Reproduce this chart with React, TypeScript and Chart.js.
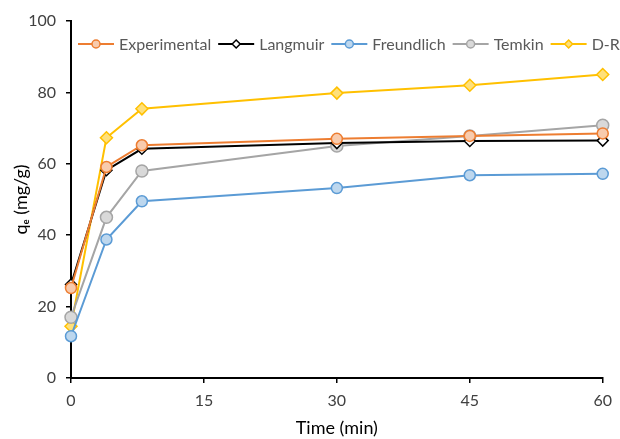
import React, { useEffect, useRef } from "react";
import { Chart, registerables } from "chart.js";

Chart.register(...registerables);

const timeMin = [0, 4, 8, 30, 45, 60];
const experimental = [25.2, 59.1, 65.2, 67.0, 67.8, 68.5];
const langmuir = [26.2, 58.2, 64.2, 65.8, 66.4, 66.5];
const freundlich = [11.7, 38.8, 49.5, 53.2, 56.8, 57.2];
const temkin = [17.0, 45.0, 58.0, 65.0, 67.8, 70.8];
const dr = [14.5, 67.3, 75.4, 79.8, 82.0, 85.0];
const xTicks = [0, 15, 30, 45, 60];
const yTicks = [0, 20, 40, 60, 80, 100];

const FONT = "Lato, 'Open Sans', sans-serif";

type S = { label: string; data: number[]; line: string; fill: string; style: "circle" | "rectRot"; r: number };
const series: S[] = [
  { label: "Experimental", data: experimental, line: "#ED7D31", fill: "#F8CBAD", style: "circle", r: 5.5 },
  { label: "Langmuir", data: langmuir, line: "#000000", fill: "#FFFFFF", style: "rectRot", r: 5.5 },
  { label: "Freundlich", data: freundlich, line: "#5B9BD5", fill: "#BDD7EE", style: "circle", r: 5.5 },
  { label: "Temkin", data: temkin, line: "#A5A5A5", fill: "#D9D9D9", style: "circle", r: 6 },
  { label: "D-R", data: dr, line: "#FFC000", fill: "#FFE07A", style: "rectRot", r: 6 },
];

function marker(ctx: CanvasRenderingContext2D, s: S, x: number, y: number, r: number) {
  ctx.save();
  ctx.beginPath();
  if (s.style === "circle") {
    ctx.arc(x, y, r, 0, Math.PI * 2);
  } else {
    ctx.moveTo(x, y - r);
    ctx.lineTo(x + r, y);
    ctx.lineTo(x, y + r);
    ctx.lineTo(x - r, y);
    ctx.closePath();
  }
  ctx.fillStyle = s.fill;
  ctx.fill();
  ctx.lineWidth = 1.5;
  ctx.strokeStyle = s.line;
  ctx.stroke();
  ctx.restore();
}

const legendPlugin = {
  id: "customLegend",
  afterDraw(chart: any) {
    const ctx: CanvasRenderingContext2D = chart.ctx;
    const area = chart.chartArea;
    let x = area.left + 7;
    const y = area.top + 23;
    ctx.save();
    ctx.font = `16px ${FONT}`;
    ctx.textBaseline = "middle";
    series.forEach((s) => {
      const lineLen = 36;
      ctx.beginPath();
      ctx.moveTo(x, y);
      ctx.lineTo(x + lineLen, y);
      ctx.strokeStyle = s.line;
      ctx.lineWidth = 2;
      ctx.stroke();
      marker(ctx, s, x + lineLen / 2, y, 4);
      x += lineLen + 5;
      ctx.fillStyle = "#595959";
      ctx.fillText(s.label, x, y + 1);
      x += ctx.measureText(s.label).width + 7;
    });
    ctx.restore();
  },
};

export default function App() {
  const ref = useRef<HTMLCanvasElement>(null);
  useEffect(() => {
    const canvas = ref.current!;
    const chart = new Chart(canvas, {
      type: "line",
      data: {
        datasets: series.map((s) => ({
          label: s.label,
          data: timeMin.map((t, i) => ({ x: t, y: s.data[i] })),
          borderColor: s.line,
          backgroundColor: s.fill,
          borderWidth: 2,
          pointStyle: s.style,
          pointRadius: s.r,
          pointBorderWidth: 1.5,
          pointBorderColor: s.line,
          pointBackgroundColor: s.fill,
          tension: 0,
          clip: false as any,
        })),
      },
      plugins: [legendPlugin],
      options: {
        animation: false,
        responsive: false,
        layout: { padding: { top: 21, right: 16, left: 0, bottom: 0 } },
        plugins: { legend: { display: false }, tooltip: { enabled: false } },
        scales: {
          x: {
            type: "linear",
            min: 0,
            max: 60,
            afterBuildTicks: (scale: any) => {
              scale.ticks = xTicks.map((v) => ({ value: v }));
            },
            afterFit: (scale: any) => {
              scale.height = 61;
            },
            grid: { drawOnChartArea: false, drawTicks: true, tickLength: 5, color: "#000", lineWidth: 1.5 },
            border: { color: "#000", width: 2 },
            ticks: { font: { size: 16, family: FONT }, color: "#404040", padding: 8, maxRotation: 0 },
            title: { display: true, text: "Time (min)", font: { size: 18, family: FONT }, color: "#000", padding: { top: 0, bottom: 0 } },
          },
          y: {
            type: "linear",
            min: 0,
            max: 100,
            afterBuildTicks: (scale: any) => {
              scale.ticks = yTicks.map((v) => ({ value: v }));
            },
            afterFit: (scale: any) => {
              scale.width = 71;
            },
            grid: { drawOnChartArea: false, drawTicks: true, tickLength: 5, color: "#000", lineWidth: 1.5 },
            border: { color: "#000", width: 2 },
            ticks: { font: { size: 16, family: FONT }, color: "#404040", padding: 10 },
            title: { display: true, text: "qₑ (mg/g)", font: { size: 18, family: FONT }, color: "#000", padding: { top: 10, bottom: 0 } },
          },
        },
      },
    });
    return () => chart.destroy();
  }, []);
  return (
    <div style={{ position: "fixed", left: 0, top: 0, width: 620, height: 439, background: "#fff" }}>
      <canvas ref={ref} width={620} height={439} style={{ width: 620, height: 439 }} />
    </div>
  );
}
